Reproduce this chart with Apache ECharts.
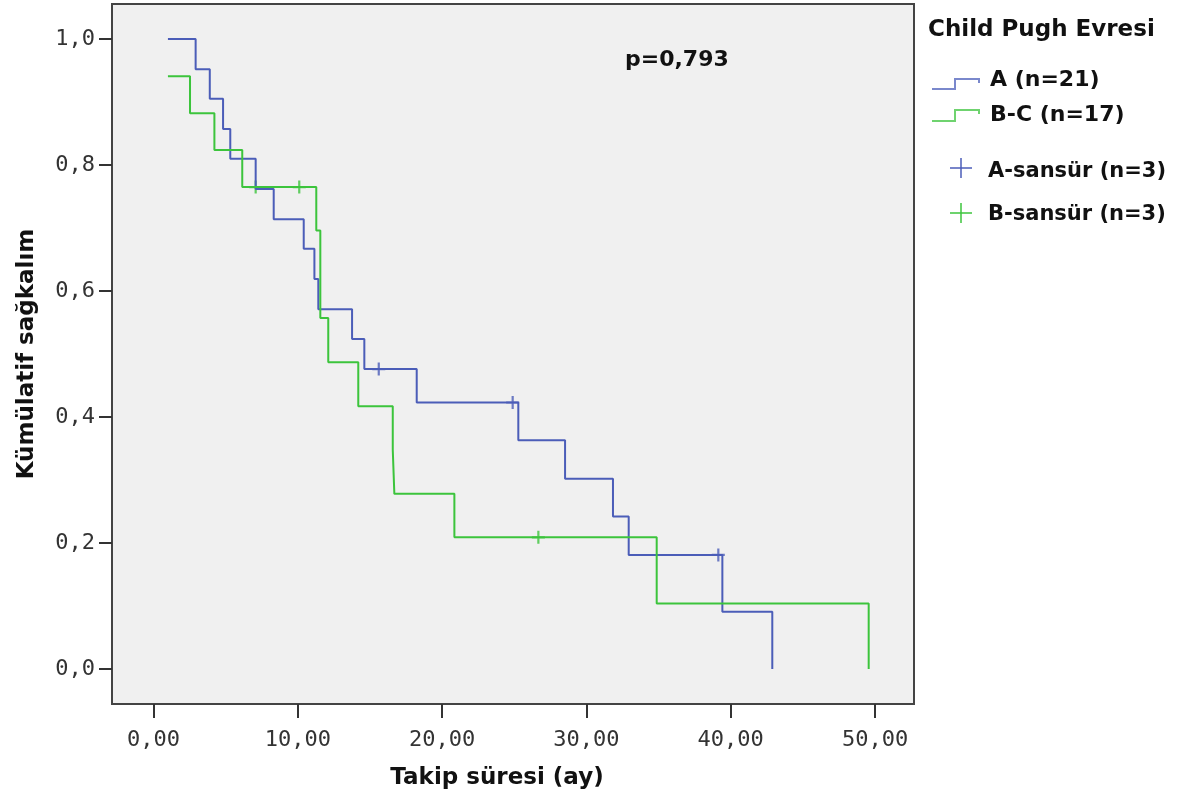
<!DOCTYPE html>
<html>
<head>
<meta charset="utf-8">
<script src="https://cdn.jsdelivr.net/npm/echarts@6/dist/echarts.min.js"></script>
<style>
  html, body { margin: 0; padding: 0; background: #fff; }
  #main { width: 1191px; height: 800px; }
</style>
</head>
<body>
<div id="main"></div>
<script>
// Kaplan-Meier egrileri - Child Pugh evresine gore
var timesA = [1.0, 2.92, 3.9, 4.82, 5.32, 7.08, 8.33, 10.41, 11.15, 11.42, 13.76, 14.61, 18.24, 25.28, 28.52, 31.84, 32.93, 39.42, 42.88];
var survA  = [1.0, 0.952, 0.905, 0.857, 0.810, 0.762, 0.714, 0.667, 0.619, 0.571, 0.524, 0.476, 0.423, 0.363, 0.302, 0.242, 0.181, 0.091, 0.0];
var censTimesA = [15.61, 24.89, 39.14];
var censSurvA  = [0.476, 0.423, 0.181];

var timesB = [1.0, 2.53, 4.22, 6.15, 11.28, 11.56, 12.11, 14.19, 16.58, 16.69, 20.85, 34.87, 49.56];
var survB  = [0.941, 0.882, 0.824, 0.765, 0.696, 0.557, 0.487, 0.417, 0.348, 0.278, 0.209, 0.104, 0.0];
var censTimesB = [7.08, 10.10, 26.67];
var censSurvB  = [0.765, 0.765, 0.209];

var xTicks = [0, 10, 20, 30, 40, 50];
var yTicks = [0, 0.2, 0.4, 0.6, 0.8, 1.0];

var blue = '#4b5db8';
var green = '#3cc43c';
var plusPath = 'path://M-0.17,-1H0.17V-0.17H1V0.17H0.17V1H-0.17V0.17H-1V-0.17H-0.17Z';
var boldFont = '"DejaVu Sans", sans-serif';
var monoFont = '"DejaVu Sans Mono", monospace';

function pairs(xs, ys) {
    return xs.map(function (x, i) { return [x, ys[i]]; });
}

// lejanttaki arti isareti
function plus(cx, cy, color) {
    return {
        type: 'group',
        children: [
            { type: 'line', shape: { x1: cx - 11, y1: cy, x2: cx + 11, y2: cy }, style: { stroke: color, lineWidth: 1.5 } },
            { type: 'line', shape: { x1: cx, y1: cy - 10, x2: cx, y2: cy + 10 }, style: { stroke: color, lineWidth: 1.5 } }
        ]
    };
}

function label(x, y, text, size) {
    return {
        type: 'text', x: x, y: y,
        style: { text: text, font: 'bold ' + (size || 22) + 'px ' + boldFont, fill: '#111', verticalAlign: 'middle' }
    };
}

var chart = echarts.init(document.getElementById('main'));

chart.setOption({
    animation: false,
    backgroundColor: '#ffffff',
    grid: {
        left: 112, right: 277, top: 4, bottom: 96,
        show: true,
        backgroundColor: '#f0f0f0',
        borderColor: '#444444',
        borderWidth: 2
    },
    xAxis: {
        type: 'value',
        min: -2.876,
        max: 52.70,
        splitLine: { show: false },
        axisLine: { show: false, onZero: false },
        axisTick: {
            show: true, length: 14, inside: false,
            customValues: xTicks,
            lineStyle: { color: '#333', width: 2 }
        },
        axisLabel: {
            customValues: xTicks,
            margin: 25,
            color: '#333',
            fontFamily: monoFont,
            fontSize: 22,
            formatter: function (v) { return v.toFixed(2).replace('.', ','); }
        }
    },
    yAxis: {
        type: 'value',
        min: -0.0556,
        max: 1.0556,
        splitLine: { show: false },
        axisLine: { show: false, onZero: false },
        axisTick: {
            show: true, length: 13, inside: false,
            customValues: yTicks,
            lineStyle: { color: '#333', width: 2 }
        },
        axisLabel: {
            customValues: yTicks,
            margin: 17,
            color: '#333',
            fontFamily: monoFont,
            fontSize: 22,
            formatter: function (v) { return v.toFixed(1).replace('.', ','); }
        }
    },
    series: [
        {
            name: 'A (n=21)',
            type: 'line',
            step: 'end',
            symbol: 'none',
            data: pairs(timesA, survA),
            lineStyle: { color: blue, width: 2 }
        },
        {
            name: 'B-C (n=17)',
            type: 'line',
            step: 'end',
            symbol: 'none',
            data: pairs(timesB, survB),
            lineStyle: { color: green, width: 2 }
        },
        {
            name: 'A-sansür (n=3)',
            type: 'scatter',
            symbol: plusPath,
            symbolSize: 13,
            data: pairs(censTimesA, censSurvA),
            itemStyle: { color: blue }
        },
        {
            name: 'B-sansür (n=3)',
            type: 'scatter',
            symbol: plusPath,
            symbolSize: 13,
            data: pairs(censTimesB, censSurvB),
            itemStyle: { color: green }
        }
    ],
    graphic: [
        // p degeri
        label(625, 60, 'p=0,793', 22),
        // eksen basliklari
        { type: 'text', x: 497, y: 778, style: { text: 'Takip süresi (ay)', font: 'bold 23px ' + boldFont, fill: '#111', align: 'center', verticalAlign: 'middle' } },
        { type: 'text', x: 27, y: 354, rotation: Math.PI / 2, style: { text: 'Kümülatif sağkalım', font: 'bold 23px ' + boldFont, fill: '#111', align: 'center', verticalAlign: 'middle' } },
        // lejant
        label(928, 30, 'Child Pugh Evresi', 23),
        { type: 'polyline', shape: { points: [[932, 89], [955, 89], [955, 79], [979, 79], [979, 83]] }, style: { stroke: '#7a88cc', lineWidth: 2, fill: null } },
        label(990, 80, 'A (n=21)'),
        { type: 'polyline', shape: { points: [[932, 121], [955, 121], [955, 110], [979, 110], [979, 114]] }, style: { stroke: '#6fd36f', lineWidth: 2, fill: null } },
        label(990, 115, 'B-C (n=17)'),
        plus(961, 168, blue),
        label(988, 172, 'A-sansür (n=3)', 21),
        plus(961, 213, green),
        label(988, 215, 'B-sansür (n=3)', 21)
    ]
});
</script>
</body>
</html>
